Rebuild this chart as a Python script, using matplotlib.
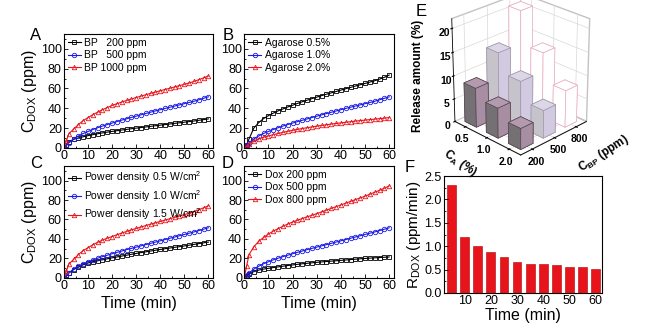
import matplotlib
matplotlib.use("Agg")
import matplotlib.pyplot as plt
import numpy as np
from matplotlib.ticker import MultipleLocator

plt.rcParams['font.family'] = ['Liberation Sans', 'DejaVu Sans']
plt.rcParams['mathtext.fontset'] = 'custom'
plt.rcParams['mathtext.rm'] = 'Liberation Sans'
plt.rcParams['mathtext.it'] = 'Liberation Sans:italic'
plt.rcParams['mathtext.bf'] = 'Liberation Sans:bold'
plt.rcParams['grid.color'] = '#d8d8d8'
plt.rcParams['grid.linewidth'] = 0.5

# ---- release curves (time in min, C_DOX in ppm) ----
time = [0, 1, 2, 4, 6, 8, 10, 12, 14, 16, 18, 20, 22, 24, 26, 28, 30,
        32, 34, 36, 38, 40, 42, 44, 46, 48, 50, 52, 54, 56, 58, 60]

bp_200 = [0, 3, 5.5, 8.5, 10, 11.2, 12.3, 13.3, 14.2, 15.1, 15.9, 16.6, 17.3, 18, 18.6, 19.3, 19.9,
          20.5, 21.1, 21.7, 22.3, 22.9, 23.5, 24.1, 24.7, 25.3, 25.9, 26.5, 27.1, 27.8, 28.5, 29.2]
bp_500 = [0, 2.5, 5, 9, 12, 14.5, 16.5, 18.5, 20.3, 22, 23.5, 25, 26.5, 28, 29.3, 30.7, 32,
          33.4, 34.7, 36, 37.3, 38.5, 39.8, 41, 42.2, 43.4, 44.6, 45.8, 47, 48.5, 50, 51.5]
bp_1000 = [0, 7, 14, 19, 23.5, 27.5, 30.5, 33.5, 36, 38.5, 40.7, 42.8, 44.5, 46.2, 47.8, 49.3, 50.8,
           52.2, 53.6, 55, 56.3, 57.6, 58.9, 60.2, 61.5, 62.8, 64.1, 65.5, 67, 68.8, 70.6, 72.5]

aga_05 = [0, 3, 9, 20, 25.5, 29.5, 32.5, 35, 37.3, 39.3, 41.2, 43, 44.8, 46.5, 48.1, 49.7, 51.2,
          52.7, 54.1, 55.5, 56.9, 58.3, 59.7, 61, 62.4, 63.7, 65, 66.4, 67.8, 69.4, 71.2, 73.5]
aga_10 = [0, 2.5, 5, 9, 12, 14.5, 16.5, 18.5, 20.3, 22, 23.5, 25, 26.4, 27.8, 29.2, 30.6, 32,
          33.3, 34.6, 35.9, 37.2, 38.5, 39.8, 41, 42.2, 43.4, 44.6, 45.8, 47, 48.5, 50, 51.5]
aga_20 = [0, 2, 4, 7, 9, 10.7, 12, 13.3, 14.5, 15.6, 16.7, 17.7, 18.6, 19.5, 20.3, 21.1, 21.9,
          22.6, 23.3, 24, 24.6, 25.2, 25.8, 26.4, 27, 27.5, 28, 28.5, 29, 29.5, 30, 30.5]

pd_05 = [0, 2.5, 5, 8.5, 11, 13.5, 15.3, 16.6, 17.6, 18.6, 19.6, 20.6, 21.5, 22.4, 23.3, 24.2, 25.1,
         26, 26.8, 27.6, 28.4, 29.2, 30, 30.7, 31.4, 32.1, 32.8, 33.6, 34.4, 35.2, 36, 36.8]
pd_10 = [0, 2.5, 5, 9, 12, 14.5, 16.5, 18.5, 20.2, 21.8, 23.3, 24.8, 26.2, 27.6, 29, 30.3, 31.6,
         32.9, 34.2, 35.5, 36.8, 38.1, 39.4, 40.7, 42, 43.3, 44.6, 45.9, 47.2, 48.6, 50, 51.5]
pd_15 = [0, 7, 14, 19, 24, 28, 31, 34, 36.5, 38.8, 40.8, 42.5, 44.3, 46, 47.7, 49.3, 50.8,
         52.3, 53.8, 55.2, 56.6, 58, 59.4, 60.8, 62.2, 63.6, 65, 66.5, 68.2, 70, 72, 74]

dox_200 = [0, 2, 4, 6.5, 8, 9, 9.8, 10.6, 11.3, 12, 12.7, 13.3, 13.9, 14.5, 15, 15.5, 16,
           16.4, 16.8, 17.2, 17.6, 18, 18.4, 18.8, 19.2, 19.6, 20, 20.3, 20.6, 20.9, 21.2, 21.5]
dox_500 = [0, 2.5, 5, 9, 12, 14.5, 16.5, 18.5, 20.2, 21.8, 23.3, 24.8, 26.2, 27.6, 29, 30.3, 31.6,
           32.9, 34.2, 35.5, 36.8, 38.1, 39.4, 40.7, 42, 43.3, 44.6, 45.9, 47.2, 48.6, 50, 51.5]
dox_800 = [0, 12, 24, 32, 37.5, 41.5, 45, 48, 50.5, 53, 55.3, 57.4, 59.2, 61, 62.7, 64.3, 66,
           67.8, 69.6, 71.4, 73.2, 75, 76.8, 78.6, 80.4, 82.2, 84, 86, 88, 90, 92.2, 94.5]

labels_A = ['BP   200 ppm', 'BP   500 ppm', 'BP 1000 ppm']
labels_B = ['Agarose 0.5%', 'Agarose 1.0%', 'Agarose 2.0%']
labels_C = ['Power density 0.5 W/cm$^2$', 'Power density 1.0 W/cm$^2$', 'Power density 1.5 W/cm$^2$']
labels_D = ['Dox 200 ppm', 'Dox 500 ppm', 'Dox 800 ppm']

# ---- E: release amount (%) ----
ca_labels = ['0.5', '1.0', '2.0']
cbp_labels = ['200', '500', '800']
release_200 = [8.5, 6.5, 4.5]
release_500 = [14, 10, 6]
release_800 = [21, 14, 8]

# ---- F: release rate ----
rate_time = [5, 10, 15, 20, 25, 30, 35, 40, 45, 50, 55, 60]
rate = [2.31, 1.19, 1.01, 0.87, 0.76, 0.67, 0.61, 0.62, 0.60, 0.56, 0.55, 0.52]

fig = plt.figure(figsize=(6.46, 3.36), dpi=100)

styles = [('k', 's'), ('#1a1ae6', 'o'), ('#e8141b', '^')]


def curve_panel(rect, series, labels, xlabel):
    ax = fig.add_axes(rect)
    for (c, m), y, lab in zip(styles, series, labels):
        ax.plot(time, y, color=c, marker=m, markersize=3.2, markerfacecolor='none',
                markeredgewidth=0.6, linewidth=0.8, label=lab)
    ax.set_xlim(0, 62)
    ax.set_ylim(0, 115)
    ax.xaxis.set_major_locator(MultipleLocator(10))
    ax.xaxis.set_minor_locator(MultipleLocator(5))
    ax.yaxis.set_major_locator(MultipleLocator(20))
    ax.yaxis.set_minor_locator(MultipleLocator(10))
    ax.tick_params(which='both', direction='in', labelsize=9, width=0.6, pad=1.5)
    ax.tick_params(which='major', length=3)
    ax.tick_params(which='minor', length=1.5)
    for s in ax.spines.values():
        s.set_linewidth(0.8)
    ax.legend(loc='upper left', frameon=False, fontsize=7.5, handlelength=1.3,
              handletextpad=0.3, labelspacing=0.25, borderaxespad=0.15, borderpad=0.2)
    if xlabel:
        ax.set_xlabel('Time (min)', fontsize=11.5, labelpad=3)
    return ax


axA = curve_panel([0.099, 0.560, 0.231, 0.339], [bp_200, bp_500, bp_1000], labels_A, False)
axB = curve_panel([0.378, 0.560, 0.232, 0.339], [aga_05, aga_10, aga_20], labels_B, False)
axC = curve_panel([0.099, 0.173, 0.231, 0.333], [pd_05, pd_10, pd_15], labels_C, True)
axD = curve_panel([0.378, 0.173, 0.232, 0.333], [dox_200, dox_500, dox_800], labels_D, True)
axA.set_ylabel(r'C$_{\mathrm{DOX}}$ (ppm)', fontsize=11.5, labelpad=1)
axC.set_ylabel(r'C$_{\mathrm{DOX}}$ (ppm)', fontsize=11.5, labelpad=1)

# ---- F bars ----
axF = fig.add_axes([0.687, 0.128, 0.245, 0.348])
axF.bar(rate_time, rate, width=3.4, color='#e8141b', edgecolor='#b00000', linewidth=0.4)
axF.set_xlim(2, 62.5)
axF.set_ylim(0, 2.5)
axF.set_xticks([10, 20, 30, 40, 50, 60])
axF.yaxis.set_major_locator(MultipleLocator(0.5))
axF.yaxis.set_minor_locator(MultipleLocator(0.25))
axF.tick_params(which='both', direction='in', labelsize=9, width=0.6, pad=1.5)
axF.tick_params(which='major', length=3)
axF.tick_params(which='minor', length=1.5)
axF.tick_params(axis='x', which='major', length=0)
for s in axF.spines.values():
    s.set_linewidth(0.8)
axF.set_xlabel('Time (min)', fontsize=11.5, labelpad=1)
axF.set_ylabel(r'R$_{\mathrm{DOX}}$ (ppm/min)', fontsize=11, labelpad=1)
axF.patch.set_alpha(0)

# ---- E 3D bars ----
axE = fig.add_axes([0.622, 0.49, 0.36, 0.58], projection='3d')
axE.patch.set_alpha(0)
# face order: bottom, top, -y, +y, -x, +x
face_cols = [
    ['#6a6a6a', '#b39aae', '#747074', '#8a7a86', '#8a7a86', '#a88ea2'],
    ['#c0c0c0', '#dcd6e6', '#c6c4ca', '#d0cada', '#d0cada', '#d2cae0'],
    ['white'] * 6,
]
edge_cols = ['#5a4a55', '#a09aac', '#e8aebf']
xs = np.arange(3)
for j, (vals, fc, ec) in enumerate(zip([release_200, release_500, release_800], face_cols, edge_cols)):
    axE.bar3d(xs - 0.27, np.full(3, j) - 0.27, np.zeros(3), 0.54, 0.54, vals,
              color=fc * 3, edgecolor=ec, linewidth=0.5, shade=False)
axE.view_init(elev=26, azim=-45)
axE.set_box_aspect((1, 1, 1.2), zoom=0.88)
axE.set_xlim(-0.5, 2.5)
axE.set_ylim(-0.5, 2.5)
axE.set_zlim(0, 22)
axE.zaxis.set_ticks_position('lower')
axE.set_xticks(xs)
axE.set_xticklabels(ca_labels, fontsize=7.5, fontweight='bold')
axE.set_yticks(xs)
axE.set_yticklabels(cbp_labels, fontsize=7.5, fontweight='bold')
axE.set_zticks([0, 5, 10, 15, 20])
axE.set_zticklabels(['0', '5', '10', '15', '20'], fontsize=7.5, fontweight='bold')
axE.tick_params(axis='both', pad=-4)
for a in (axE.xaxis, axE.yaxis, axE.zaxis):
    a.pane.set_facecolor('white')
    a.pane.set_edgecolor('#888888')
    a.line.set_linewidth(0.6)

# axis titles of the 3D panel, placed by hand
fig.text(418 / 646, 1 - 76 / 336, 'Release amount (%)', fontsize=8.5, fontweight='bold',
         rotation=90, ha='center', va='center')
fig.text(460 / 646, 1 - 163 / 336, r'C$_{\mathbf{A}}$ (%)', fontsize=8.5, fontweight='bold',
         rotation=-35, ha='center', va='center')
fig.text(604 / 646, 1 - 154 / 336, r'C$_{\mathbf{BP}}$ (ppm)', fontsize=8.5, fontweight='bold',
         rotation=33, ha='center', va='center')

# panel letters
for lab, x, y in [('A', 36, 35), ('B', 228, 35), ('C', 36, 163), ('D', 228, 163),
                  ('E', 421, 12), ('F', 410, 168)]:
    fig.text(x / 646, 1 - y / 336, lab, fontsize=12, ha='center', va='center')

fig.savefig('out.png', dpi=100)
